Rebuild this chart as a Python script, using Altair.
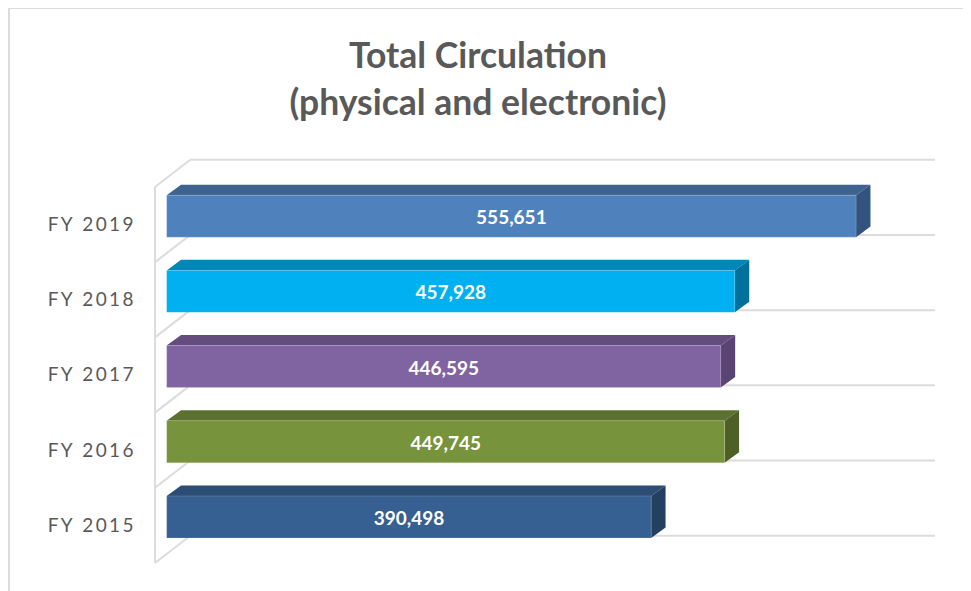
import altair as alt
import pandas as pd

# ---- values ----
years = ["FY 2015", "FY 2016", "FY 2017", "FY 2018", "FY 2019"]
values = [390498, 449745, 446595, 457928, 555651]
labels = ["390,498", "449,745", "446,595", "457,928", "555,651"]
front_colors = ["#376092", "#77933C", "#8064A2", "#00B0F0", "#4F81BD"]
top_colors = ["#2C4D75", "#5C7030", "#644C7F", "#0086B8", "#3F638F"]
side_colors = ["#234060", "#4F6027", "#5A4473", "#00719C", "#325280"]
title_lines = ["Total Circulation", "(physical and electronic)"]

# ---- 3D frame, in data units ----
wall_front = -9400
wall_back = 19000
x_end = 619263
wall_rise = 0.362
bar_low = 0.333
bar_high = 0.891
depth_x = 11600
depth_y = 0.14
y_top = 5.372

# tick label letter spacing (thin spaces)
TS = "\u2009"
spaced = [TS.join(list(y)) for y in years]

grid_rows, diag_rows = [], []
for k in range(6):
    grid_rows.append(dict(k=k, x=wall_back, x2=x_end, y=k + wall_rise))
    diag_rows += [dict(k=k, x=wall_front, y=k), dict(k=k, x=wall_back, y=k + wall_rise)]

front_rows, top_rows, side_rows, text_rows = [], [], [], []
for i, v in enumerate(values):
    lo, hi = i + bar_low, i + bar_high
    front_rows.append(dict(x=0, x2=v, y=lo, y2=hi, c=front_colors[i]))
    text_rows.append(dict(x=v / 2, y=(lo + hi) / 2, t=labels[i]))
    top_rows += [
        dict(i=i, x=0, y=hi, y2=hi, c=top_colors[i]),
        dict(i=i, x=depth_x, y=hi + depth_y, y2=hi, c=top_colors[i]),
        dict(i=i, x=v, y=hi + depth_y, y2=hi, c=top_colors[i]),
        dict(i=i, x=v + depth_x, y=hi + depth_y, y2=hi + depth_y, c=top_colors[i]),
    ]
    side_rows += [
        dict(i=i, x=v, y=hi, y2=lo, c=side_colors[i]),
        dict(i=i, x=v + depth_x, y=hi + depth_y, y2=lo + depth_y, c=side_colors[i]),
    ]

xs = alt.Scale(domain=[wall_front, x_end], nice=False, zero=False)
ys = alt.Scale(domain=[0, y_top], nice=False, zero=False)
X = alt.X("x:Q", scale=xs, axis=None)
tick_expr = "[" + ",".join(f"'{s}'" for s in spaced) + "][floor(datum.value)]"
Y = alt.Y(
    "y:Q",
    scale=ys,
    axis=alt.Axis(
        values=[0.5, 1.5, 2.5, 3.5, 4.5],
        labelExpr=tick_expr,
        title=None,
        domain=False,
        ticks=False,
        grid=False,
        labelFont="Lato",
        labelFontSize=19,
        labelColor="#595959",
        labelPadding=22,
    ),
)
GRID = "#DCDCDC"

border_left = alt.Chart(pd.DataFrame({"a": [0]})).mark_rule(
    color=GRID, strokeWidth=2, clip=False
).encode(x=alt.value(-146), y=alt.value(-151), y2=alt.value(432))
border_top = alt.Chart(pd.DataFrame({"a": [0]})).mark_rule(
    color=GRID, strokeWidth=2, clip=False
).encode(x=alt.value(-146), x2=alt.value(808), y=alt.value(-151))

wall = alt.Chart(pd.DataFrame({"x": [wall_front], "y": [0], "y2": [5]})).mark_rule(
    color=GRID, strokeWidth=2
).encode(x=X, y=Y, y2="y2:Q")
grid = alt.Chart(pd.DataFrame(grid_rows)).mark_rule(color=GRID, strokeWidth=2).encode(
    x=X, x2="x2:Q", y=Y
)
diag = alt.Chart(pd.DataFrame(diag_rows)).mark_line(color=GRID, strokeWidth=2).encode(
    x=X, y=Y, detail="k:N"
)
front = alt.Chart(pd.DataFrame(front_rows)).mark_rect(
    stroke="#FFFFFF", strokeOpacity=0.15, strokeWidth=1
).encode(x=X, x2="x2:Q", y=Y, y2="y2:Q", color=alt.Color("c:N", scale=None))
top = alt.Chart(pd.DataFrame(top_rows)).mark_area(orient="vertical").encode(
    x=X, y=Y, y2="y2:Q", color=alt.Color("c:N", scale=None), detail="i:N"
)
side = alt.Chart(pd.DataFrame(side_rows)).mark_area(orient="vertical").encode(
    x=X, y=Y, y2="y2:Q", color=alt.Color("c:N", scale=None), detail="i:N"
)
text = alt.Chart(pd.DataFrame(text_rows)).mark_text(
    font="Lato", fontSize=19, fontWeight="bold", color="#FFFFFF", dy=2
).encode(x=X, y=Y, text="t:N")

chart = (
    alt.layer(wall, grid, diag, top, side, front, text, border_left, border_top)
    .properties(
        width=780,
        height=404,
        autosize=alt.AutoSizeParams(type="none"),
        padding={"left": 147, "top": 151, "right": 28, "bottom": 28},
        title=alt.TitleParams(
            text=title_lines,
            font="Lato",
            fontSize=35.5,
            fontWeight="bold",
            color="#595959",
            anchor="middle",
            frame="group",
            lineHeight=47,
            dx=-67,
            dy=115,
            offset=0,
        ),
    )
    .configure_view(stroke=None)
)

chart.save("out.html", embed_options={"renderer": "svg", "actions": False})
